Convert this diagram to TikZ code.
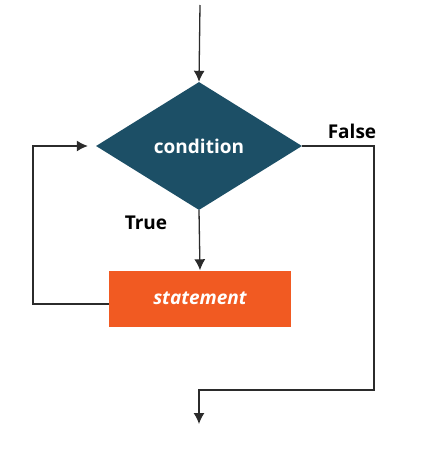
\documentclass[tikz,border=0pt]{standalone}
\usepackage{fontspec}
\setmainfont{Open Sans}
\usetikzlibrary{arrows.meta,shapes.geometric}

\definecolor{condblue}{HTML}{1C4F66}
\definecolor{stmtorange}{HTML}{F15A22}
\definecolor{linegray}{HTML}{2B2B2B}

\begin{document}
\begin{tikzpicture}[x=1pt,y=-1pt]
\useasboundingbox (0,0) rectangle (441,450);
\def \fsize {\fontsize{19}{22}\selectfont\bfseries}

\node[diamond, fill=condblue, text=white, inner sep=0pt, minimum width=206pt, minimum height=128pt] at (199,146) (cond) {\fsize condition};
\node[rectangle, fill=stmtorange, text=white, inner sep=0pt, minimum width=182pt, minimum height=56pt] at (200,298.5) (stmt) {\fsize\itshape statement};

\node at (146,223) (true) {\fsize True};
\node at (352,131) (false) {\fsize False};

\coordinate (start) at (200,5);
\coordinate (loop) at (33,304);
\coordinate (exit) at (374,390);
\coordinate (finish) at (199,424);

\path[draw=linegray, line width=1.3pt, ->, >={Latex[length=11pt,width=11pt]}] (start) -- (cond.north);
\path[draw=linegray, line width=1.3pt, ->, >={Latex[length=11pt,width=11pt]}] (cond.south) -- (stmt.north);
\path[draw=linegray, line width=1.3pt, ->, >={Latex[length=11pt,width=11pt]}, shorten >=8pt] ([yshift=-5.5pt]stmt.west) -- (loop) |- (cond.west);
\path[draw=linegray, line width=1.3pt, ->, >={Latex[length=11pt,width=11pt]}] (cond.east) -| (exit) -| (finish);

\end{tikzpicture}
\end{document}
